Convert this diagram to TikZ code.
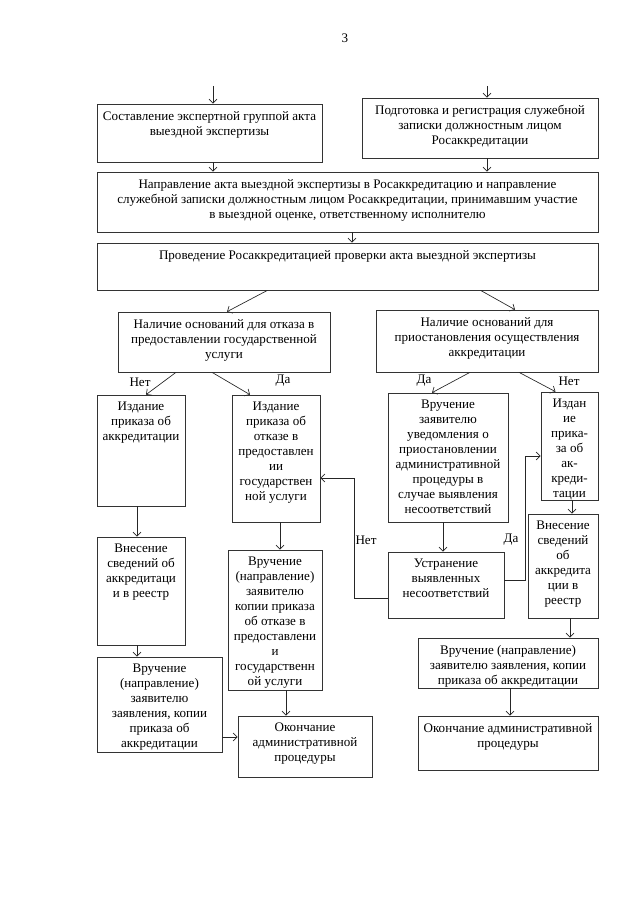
\documentclass[tikz,border=0pt]{standalone}
\usepackage{fontspec}
\setmainfont{Liberation Serif}
\usetikzlibrary{positioning, arrows.meta, fit, calc}

\tikzset{
  box/.style={draw=black!80, line width=0.5pt, inner sep=0pt},
  txt/.style={align=center, inner sep=0pt, below=5.5pt of #1},
  lbl/.style={inner sep=1pt},
  link/.style={->, draw=black!85, line width=0.5pt},
}

\begin{document}
\begin{tikzpicture}[x=0.75pt, y=-0.75pt, font=\fontsize{9.8}{11.2}\selectfont, >={Straight Barb[length=3pt,width=6pt]}]
  \useasboundingbox (0,0) rectangle (640,905);
  \node (page) at (345,38) {3};

  % boxes
  \node[box, fit={(97,104) (322,162)}] (akt) {};
  \node[box, fit={(362,98) (598,158)}] (zap) {};
  \node[box, fit={(97,172) (598,232)}] (napr) {};
  \node[box, fit={(97,243) (598,290)}] (prov) {};
  \node[box, fit={(118,312) (330,372)}] (otkaz) {};
  \node[box, fit={(376,310) (598,372)}] (priost) {};
  \node[box, fit={(97,395) (185,506)}] (izd1) {};
  \node[box, fit={(232,395) (320,522)}] (izdotk) {};
  \node[box, fit={(388,393) (508,522)}] (uved) {};
  \node[box, fit={(541,392) (598,500)}] (izd2) {};
  \node[box, fit={(528,514) (598,618)}] (vnes2) {};
  \node[box, fit={(388,552) (504,618)}] (ustr) {};
  \node[box, fit={(228,550) (322,690)}] (kopotk) {};
  \node[box, fit={(97,537) (185,645)}] (vnes1) {};
  \node[box, fit={(97,657) (222,752)}] (vruch1) {};
  \node[box, fit={(238,716) (372,777)}] (okon1) {};
  \node[box, fit={(418,638) (598,688)}] (vruch2) {};
  \node[box, fit={(418,716) (598,770)}] (okon2) {};

  % texts
  \node[txt=akt.north] (akt-t) {Составление экспертной группой акта\\выездной экспертизы};
  \node[txt=zap.north] (zap-t) {Подготовка и регистрация служебной\\записки должностным лицом\\Росаккредитации};
  \node[txt=napr.north] (napr-t) {Направление акта выездной экспертизы в Росаккредитацию и направление\\служебной записки должностным лицом Росаккредитации, принимавшим участие\\в выездной оценке, ответственному исполнителю};
  \node[txt=prov.north] (prov-t) {Проведение Росаккредитацией проверки акта выездной экспертизы};
  \node[txt=otkaz.north] (otkaz-t) {Наличие оснований для отказа в\\предоставлении государственной\\услуги};
  \node[txt=priost.north] (priost-t) {Наличие оснований для\\приостановления осуществления\\аккредитации};
  \node[txt=izd1.north] (izd1-t) {Издание\\приказа об\\аккредитации};
  \node[txt=izdotk.north] (izdotk-t) {Издание\\приказа об\\отказе в\\предоставлен\\ии\\государствен\\ной услуги};
  \node[txt=uved.north] (uved-t) {Вручение\\заявителю\\уведомления о\\приостановлении\\административной\\процедуры в\\случае выявления\\несоответствий};
  \node[txt=izd2.north] (izd2-t) {Издан\\ие\\прика-\\за об\\ак-\\креди-\\тации};
  \node[txt=vnes2.north] (vnes2-t) {Внесение\\сведений\\об\\аккредита\\ции в\\реестр};
  \node[txt=ustr.north] (ustr-t) {Устранение\\выявленных\\несоответствий};
  \node[txt=kopotk.north] (kopotk-t) {Вручение\\(направление)\\заявителю\\копии приказа\\об отказе в\\предоставлени\\и\\государственн\\ой услуги};
  \node[txt=vnes1.north] (vnes1-t) {Внесение\\сведений об\\аккредитаци\\и в реестр};
  \node[txt=vruch1.north] (vruch1-t) {Вручение\\(направление)\\заявителю\\заявления, копии\\приказа об\\аккредитации};
  \node[txt=okon1.north] (okon1-t) {Окончание\\административной\\процедуры};
  \node[txt=vruch2.north] (vruch2-t) {Вручение (направление)\\заявителю заявления, копии\\приказа об аккредитации};
  \node[txt=okon2.north] (okon2-t) {Окончание административной\\процедуры};

  % labels
  \node[lbl] (net1) at (140,382) {Нет};
  \node[lbl] (da1) at (283,381) {Да};
  \node[lbl] (da2) at (424,381) {Да};
  \node[lbl] (net2) at (569,381) {Нет};
  \node[lbl] (net3) at (366,540) {Нет};
  \node[lbl] (da3) at (511,540) {Да};

  % connectors
  \coordinate (inA) at (213,86);
  \coordinate (inB) at (487,86);
  \draw[link] (inA) -- (inA |- akt.north);
  \draw[link] (inB) -- (inB |- zap.north);
  \draw[link] (akt.south -| inA) -- (napr.north -| inA);
  \draw[link] (zap.south -| inB) -- (napr.north -| inB);
  \draw[link] ($(napr.south)+(4.5,0)$) -- ($(prov.north)+(4.5,0)$);
  \draw[link] ($(prov.south)+(-80,0)$) -- ($(otkaz.north)+(3,0)$);
  \draw[link] ($(prov.south)+(133,0)$) -- ($(priost.north)+(28,0)$);
  \draw[link] ($(otkaz.south)+(-48,0)$) -- ($(izd1.north)+(5,0)$);
  \draw[link] ($(otkaz.south)+(-12,0)$) -- ($(izdotk.north)+(-26,0)$);
  \draw[link] ($(priost.south)+(-17,0)$) -- ($(uved.north)+(-16,0)$);
  \draw[link] ($(priost.south)+(32,0)$) -- ($(izd2.north)+(-14,0)$);
  \draw[link] ($(izd1.south)+(-4,0)$) -- ($(vnes1.north)+(-4,0)$);
  \draw[link] ($(vnes1.south)+(-4,0)$) -- ($(vruch1.north)+(-22.5,0)$);
  \draw[link] ($(vruch1.east)+(0,32.5)$) -- ($(okon1.west)+(0,-9.5)$);
  \draw[link] ($(izdotk.south)+(4,0)$) -- ($(kopotk.north)+(5,0)$);
  \draw[link] ($(kopotk.south)+(11,0)$) -- ($(okon1.north)+(-19,0)$);
  \draw[link] ($(uved.south)+(-5,0)$) -- ($(ustr.north)+(-3,0)$);
  \draw[link] ($(ustr.west)+(0,13)$) -- ++(-33,0) |- ($(izdotk.east)+(0,19.5)$);
  \draw[link] ($(ustr.east)+(0,-5)$) -- ++(21,0) |- ($(izd2.west)+(0,10)$);
  \draw[link] ($(izd2.south)+(2.5,0)$) -- ($(vnes2.north)+(9,0)$);
  \draw[link] ($(vnes2.south)+(7,0)$) -- ($(vruch2.north)+(62,0)$);
  \draw[link] ($(vruch2.south)+(2,0)$) -- ($(okon2.north)+(2,0)$);
\end{tikzpicture}
\end{document}
